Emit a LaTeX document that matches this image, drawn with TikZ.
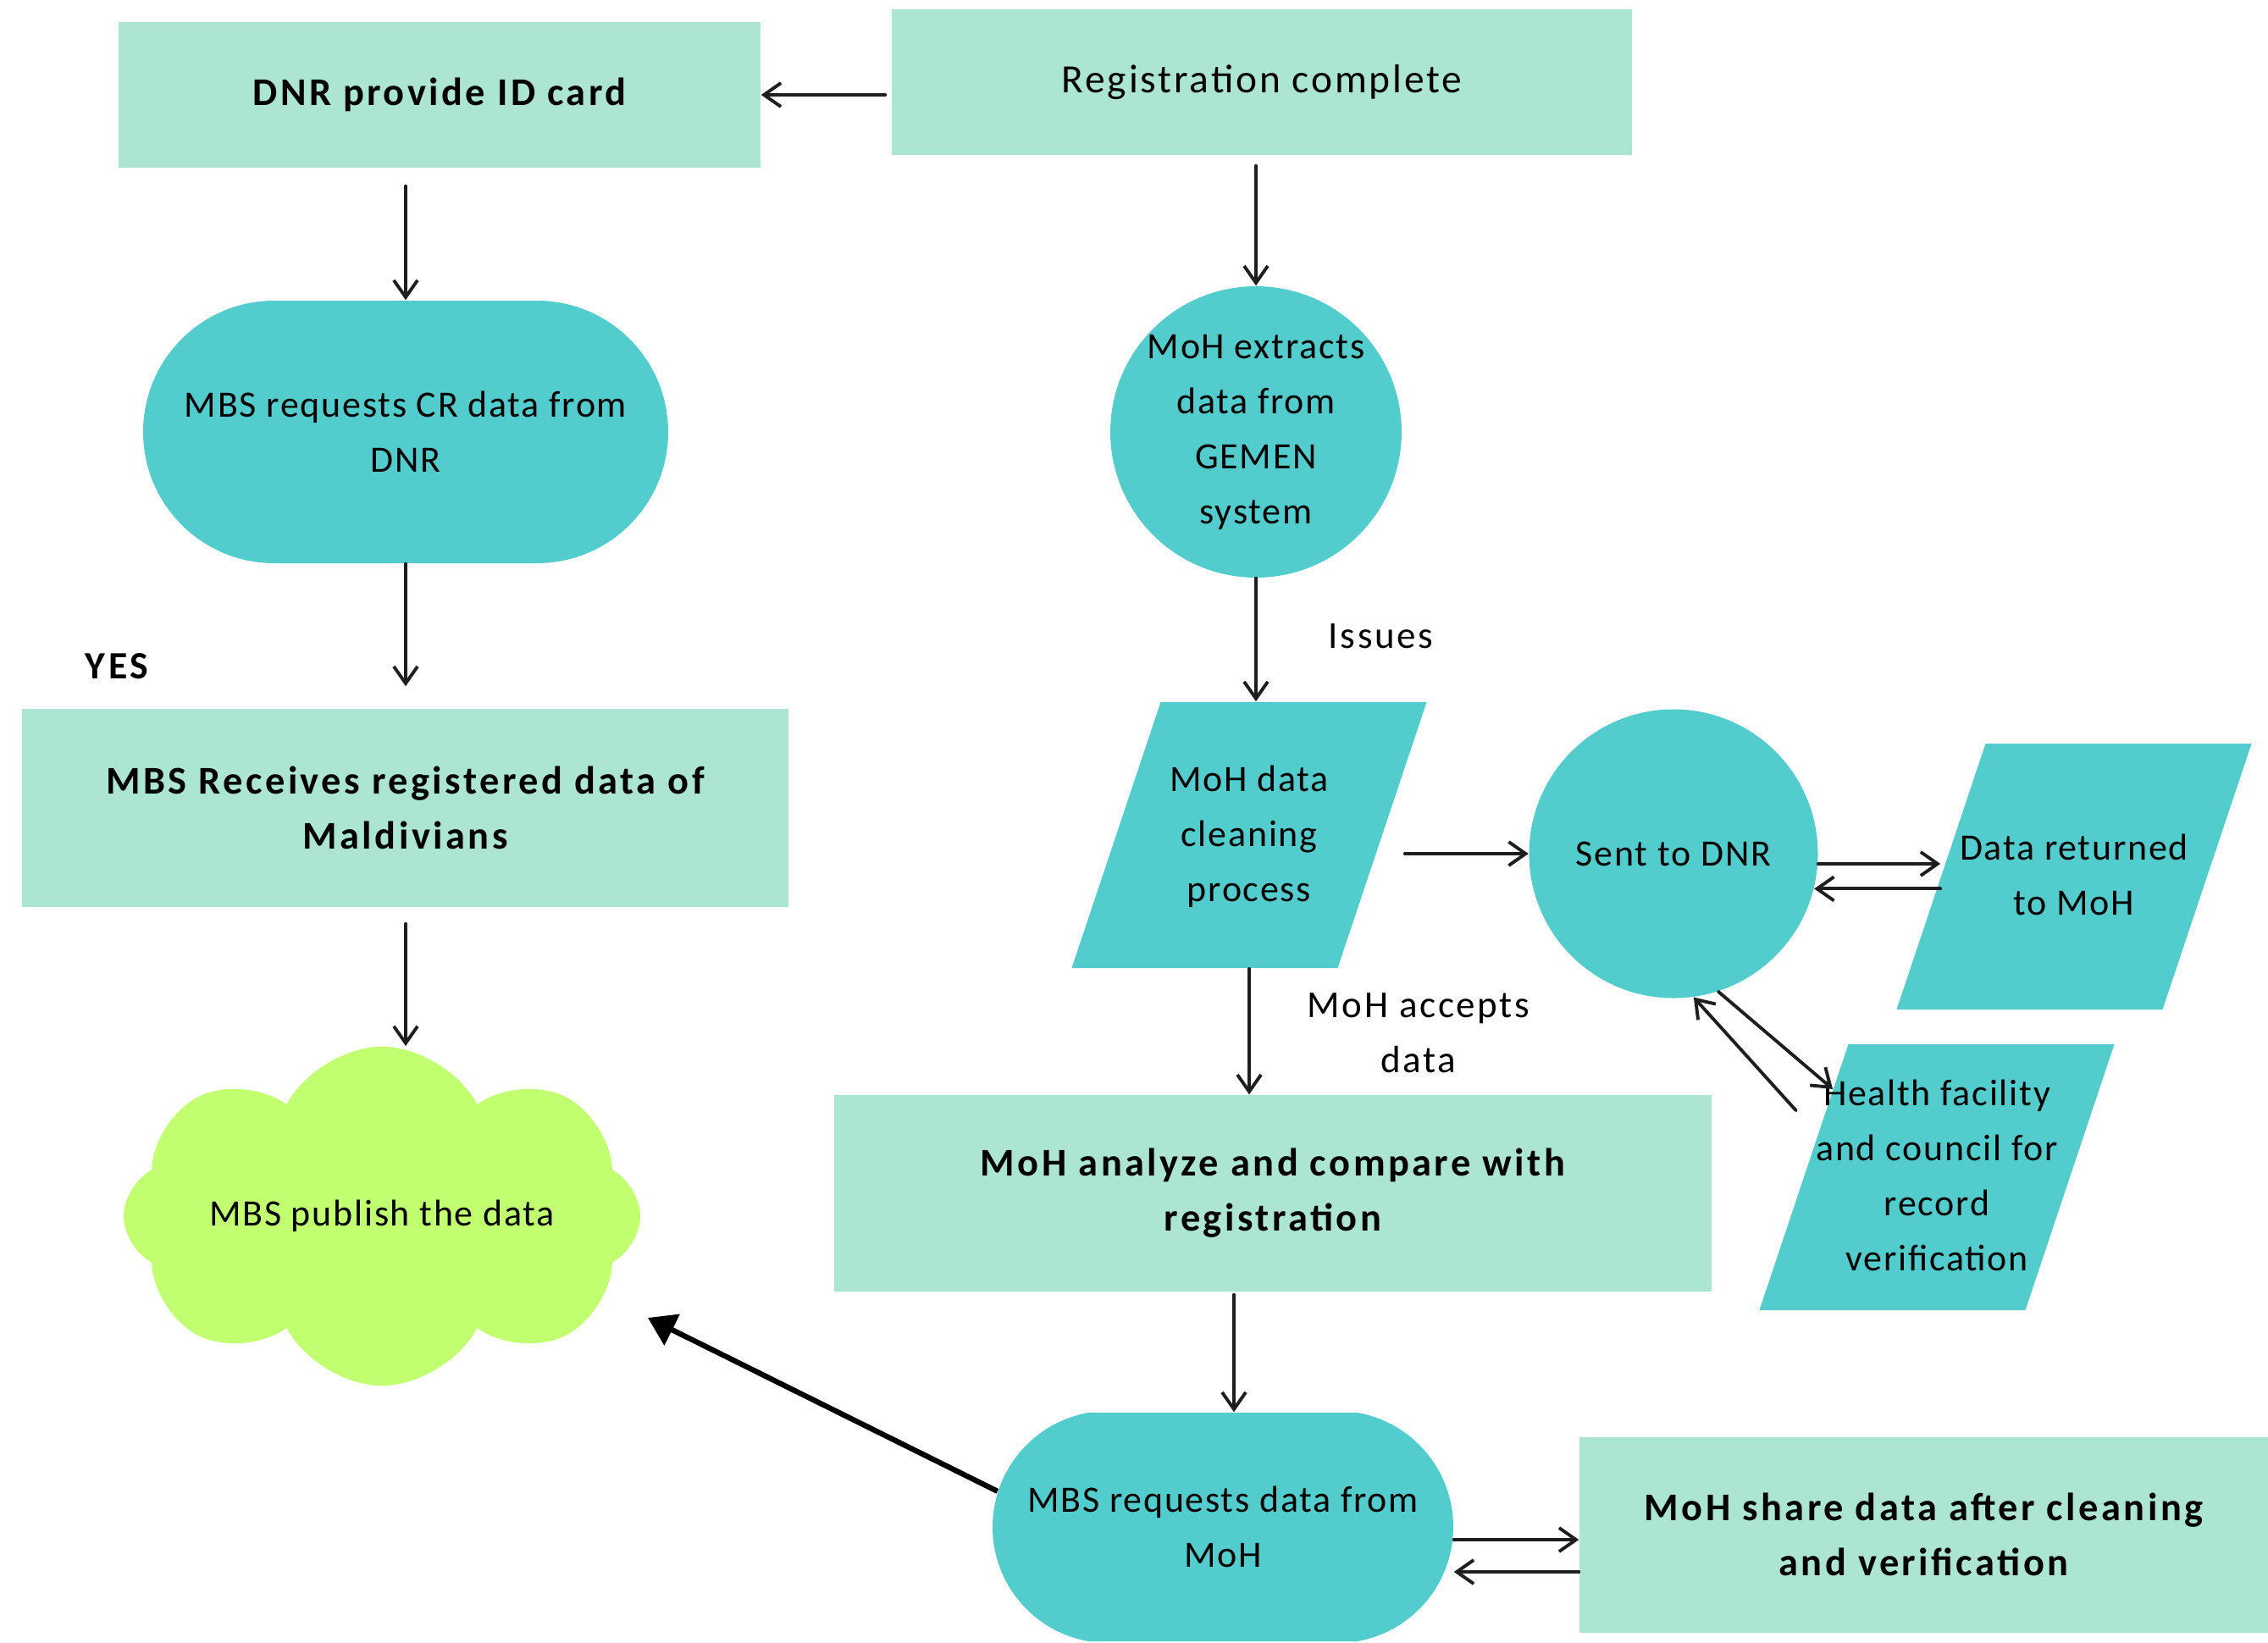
\documentclass[tikz,border=0pt]{standalone}
\usepackage{fontspec}
\setmainfont{Carlito}[LetterSpace=4,BoldFeatures={LetterSpace=7.5}]
\newfontfamily\lblfont{Carlito}[LetterSpace=6]
\usetikzlibrary{shapes.geometric,shapes.misc,shapes.symbols,arrows.meta,calc}
\definecolor{mint}{RGB}{172,230,210}
\definecolor{aqua}{RGB}{82,204,204}
\definecolor{leaf}{RGB}{193,255,112}
\definecolor{ink}{RGB}{30,30,30}
% text block of a parallelogram: fixed 2.09cm x 3.14cm, lines may run over the sides
\newcommand{\paratext}[1]{\vbox to 3.14cm{\vss\hbox to 2.09cm{\hss\begin{tabular}{@{}c@{}}#1\end{tabular}\hss}\vss}}
\tikzstyle{box} = [rectangle, fill=mint, align=center, inner sep=0pt, font=\bfseries\fontsize{13.2}{18.5}\selectfont]
\tikzstyle{term} = [rounded rectangle, fill=aqua, align=center, inner sep=0pt]
\tikzstyle{circ} = [circle, fill=aqua, align=center, inner sep=0pt]
\tikzstyle{para} = [trapezium, trapezium left angle=71.5, trapezium right angle=108.5, fill=aqua, inner sep=0pt]
\tikzstyle{note} = [align=center, inner sep=0pt, font=\lblfont\fontsize{12.8}{18.5}\selectfont]
\tikzstyle{line} = [draw=ink, line width=1.1pt, line cap=round, -{Straight Barb[length=2mm,width=2.8mm]}]
\tikzstyle{bold line} = [draw=black, line width=1.8pt, -{Triangle[length=3.2mm,width=4mm]}]

\begin{document}
\begin{tikzpicture}[font=\fontsize{12.5}{18.5}\selectfont]
	\useasboundingbox (0,0) rectangle (26.78,-19.39);
	% left column
	\node [box, minimum width=7.58cm, minimum height=1.72cm] (dnr) at (5.19,-1.12) {DNR provide ID card};
	\node [term, minimum width=6.2cm, minimum height=3.1cm] (mbscr) at (4.79,-5.10) {MBS requests CR data from\\DNR};
	\node [note, font=\bfseries\fontsize{13}{18.5}\selectfont] (yes) at (1.38,-7.87) {YES};
	\node [box, minimum width=9.05cm, minimum height=2.34cm] (recv) at (4.785,-9.54) {MBS Receives registered data of\\Maldivians};
	\node [cloud, cloud puffs=8, cloud puff arc=125, aspect=2, fill=leaf, inner sep=0pt, minimum width=6.1cm, minimum height=3.3cm] (cloud) at (4.51,-14.36) {MBS publish the data};
	% middle column
	\node [box, font=\lblfont\fontsize{13.5}{18.5}\selectfont, minimum width=8.74cm, minimum height=1.72cm] (reg) at (14.90,-0.97) {Registration complete};
	\node [circ, minimum size=3.42cm] (ext) at (14.83,-5.10) {MoH extracts\\data from\\GEMEN\\system};
	\node [note, anchor=west] (issues) at (15.68,-7.51) {Issues};
	\node [para] (clean) at (14.75,-9.86) {\paratext{MoH data\\cleaning\\process}};
	\node [note] (acc) at (16.75,-12.2) {MoH accepts\\data};
	\node [box, minimum width=10.36cm, minimum height=2.32cm] (anl) at (15.03,-14.09) {MoH analyze and compare with\\registration};
	\node [term, rounded rectangle arc length=160, minimum width=5.44cm, minimum height=2.7cm] (mbsreq) at (14.44,-18.03) {MBS requests data from\\MoH};
	% right column
	\node [circ, minimum size=3.41cm] (sent) at (19.76,-10.08) {Sent to DNR};
	\node [para] (ret) at (24.49,-10.35) {\paratext{Data returned\\to MoH}};
	\node [para] (hf) at (22.87,-13.90) {\paratext{Health facility\\and council for\\record\\verification}};
	\node [box, minimum width=8.13cm, minimum height=2.31cm] (share) at (22.715,-18.12) {MoH share data after cleaning\\and verification};
	% connectors
	\path [line] ([xshift=-0.7mm]reg.west |- dnr.east) -- (dnr.east);
	\path [line, shorten <=2.1mm] (dnr.south -| mbscr.north) -- (mbscr.north);
	\path [line, shorten >=2.6mm] (mbscr.south) -- (mbscr.south |- recv.north);
	\path [line, shorten <=1.9mm] (recv.south -| mbscr.south) -- (mbscr.south |- cloud.north);
	\path [line, shorten <=1.2mm] (reg.south -| ext.north) -- (ext.north);
	\path [line] (ext.south) -- (ext.south |- clean.north);
	\path [line] (clean.south) -- (clean.south |- anl.north);
	\path [line, shorten <=0.3mm] ([xshift=1.3mm]mbsreq.north |- anl.south) -- ([xshift=1.3mm]mbsreq.north);
	\path [line, shorten <=2.6mm] (sent.west -| clean.right side) -- (sent.west);
	\path [line] (sent.-4) -- (sent.-4 -| ret.left side);
	\path [line] (sent.-14 -| ret.left side) -- (sent.-14);
	\path [line] (sent.-72) -- ($(hf.top left corner)!0.17!(hf.bottom left corner)$);
	\path [line] ($(hf.top left corner)!0.25!(hf.bottom left corner)+(-0.35,0)$) -- (sent.-82);
	\path [line] ([yshift=-1.5mm]mbsreq.east) -- ([yshift=-1.5mm]mbsreq.east -| share.west);
	\path [line] ([yshift=-5.3mm]mbsreq.east -| share.west) -- ([yshift=-5.3mm]mbsreq.east);
	\path [bold line] (mbsreq.171) -- ($(cloud.center)+(3.14,-1.20)$);
\end{tikzpicture}
\end{document}
